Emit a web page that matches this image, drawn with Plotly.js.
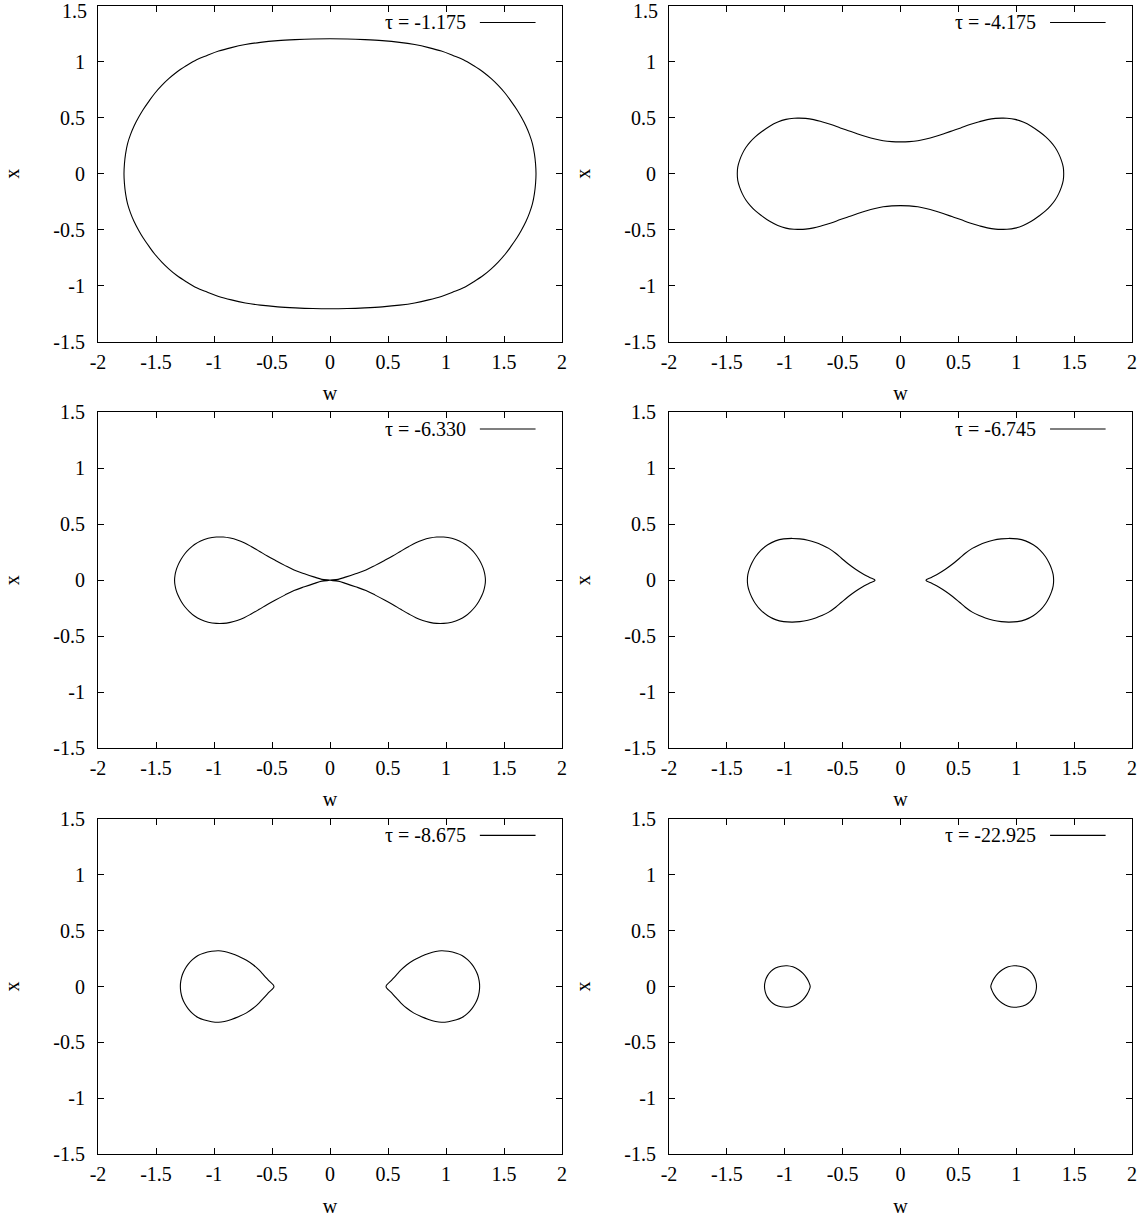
<!DOCTYPE html>
<html><head><meta charset="utf-8">
<script src="https://cdn.plot.ly/plotly-3.0.1.min.js"></script>
<style>body{margin:0;background:#fff}#chart{width:1148px;height:1222px}</style>
</head><body><div id="chart"></div>
<script>
// ---------------- data ----------------
const tauLabels = ['τ = -1.175', 'τ = -4.175', 'τ = -6.330', 'τ = -6.745', 'τ = -8.675', 'τ = -22.925'];

const xTickVals = [-2, -1.5, -1, -0.5, 0, 0.5, 1, 1.5, 2];
const xTickText = ['-2', '-1.5', '-1', '-0.5', '0', '0.5', '1', '1.5', '2'];
const yTickVals = [-1.5, -1, -0.5, 0, 0.5, 1, 1.5];
const yTickText = ['-1.5', '-1', '-0.5', '0', '0.5', '1', '1.5'];
// top row: the "1.5" label sits on the page edge, drawn separately so it is not cut
const yTickTextTopRow = ['-1.5', '-1', '-0.5', '0', '0.5', '1', ''];
const topEdgeLabel = '1.5';

// panel 1 : single oval (clockwise from the top)
const p1W = [0,0.15,0.3,0.45,0.6,0.73,0.85,0.96,1.06,1.15,1.24,1.32,1.39,1.45,1.51,1.56,1.61,1.65,1.69,1.72,1.745,1.762,1.772,1.776,
  1.772,1.762,1.745,1.72,1.69,1.65,1.61,1.56,1.51,1.45,1.39,1.32,1.24,1.15,1.06,0.96,0.85,0.73,0.6,0.45,0.3,0.15,0,
  -0.15,-0.3,-0.45,-0.6,-0.73,-0.85,-0.96,-1.06,-1.15,-1.24,-1.32,-1.39,-1.45,-1.51,-1.56,-1.61,-1.65,-1.69,-1.72,-1.745,-1.762,-1.772,-1.776,
  -1.772,-1.762,-1.745,-1.72,-1.69,-1.65,-1.61,-1.56,-1.51,-1.45,-1.39,-1.32,-1.24,-1.15,-1.06,-0.96,-0.85,-0.73,-0.6,-0.45,-0.3,-0.15,0];
const p1X = [1.207,1.205,1.199,1.19,1.175,1.155,1.128,1.097,1.058,1.02,0.965,0.91,0.85,0.79,0.72,0.65,0.575,0.505,0.425,0.35,0.27,0.18,0.09,0,
  -0.09,-0.18,-0.27,-0.35,-0.425,-0.505,-0.575,-0.65,-0.72,-0.79,-0.85,-0.91,-0.965,-1.02,-1.058,-1.097,-1.128,-1.155,-1.175,-1.19,-1.199,-1.205,-1.207,
  -1.205,-1.199,-1.19,-1.175,-1.155,-1.128,-1.097,-1.058,-1.02,-0.965,-0.91,-0.85,-0.79,-0.72,-0.65,-0.575,-0.505,-0.425,-0.35,-0.27,-0.18,-0.09,0,
  0.09,0.18,0.27,0.35,0.425,0.505,0.575,0.65,0.72,0.79,0.85,0.91,0.965,1.02,1.058,1.097,1.128,1.155,1.175,1.19,1.199,1.205,1.207];

// panel 2 : peanut (clockwise from the upper neck)
const p2W = [0,0.075,0.15,0.22,0.3,0.38,0.45,0.52,0.6,0.68,0.75,0.82,0.88,0.92,0.99,1.06,1.13,1.2,1.255,1.298,1.336,1.366,1.39,1.406,1.41,
  1.406,1.39,1.366,1.336,1.298,1.255,1.2,1.13,1.06,0.99,0.92,0.88,0.82,0.75,0.68,0.6,0.52,0.45,0.38,0.3,0.22,0.15,0.075,0,
  -0.075,-0.15,-0.22,-0.3,-0.38,-0.45,-0.52,-0.6,-0.68,-0.75,-0.82,-0.88,-0.92,-0.99,-1.06,-1.13,-1.2,-1.255,-1.298,-1.336,-1.366,-1.39,-1.406,-1.41,
  -1.406,-1.39,-1.366,-1.336,-1.298,-1.255,-1.2,-1.13,-1.06,-0.99,-0.92,-0.88,-0.82,-0.75,-0.68,-0.6,-0.52,-0.45,-0.38,-0.3,-0.22,-0.15,-0.075,0];
const p2X = [0.285,0.287,0.295,0.31,0.333,0.36,0.385,0.41,0.44,0.465,0.484,0.495,0.497,0.496,0.486,0.462,0.425,0.375,0.33,0.285,0.235,0.18,0.12,0.06,0,
  -0.06,-0.12,-0.18,-0.235,-0.285,-0.33,-0.375,-0.425,-0.462,-0.486,-0.496,-0.497,-0.495,-0.484,-0.465,-0.44,-0.41,-0.385,-0.36,-0.333,-0.31,-0.295,-0.287,-0.285,
  -0.287,-0.295,-0.31,-0.333,-0.36,-0.385,-0.41,-0.44,-0.465,-0.484,-0.495,-0.497,-0.496,-0.486,-0.462,-0.425,-0.375,-0.33,-0.285,-0.235,-0.18,-0.12,-0.06,0,
  0.06,0.12,0.18,0.235,0.285,0.33,0.375,0.425,0.462,0.486,0.496,0.497,0.495,0.484,0.465,0.44,0.41,0.385,0.36,0.333,0.31,0.295,0.287,0.285];

// panel 3 : two lobes touching at the origin
const p3RightW = [0,0.07,0.14,0.22,0.31,0.39,0.47,0.54,0.61,0.68,0.74,0.80,0.86,0.92,0.98,1.05,1.115,1.168,1.213,1.253,1.285,1.31,1.326,1.336,1.34,
  1.336,1.326,1.31,1.285,1.253,1.213,1.168,1.115,1.05,0.98,0.92,0.86,0.80,0.74,0.68,0.61,0.54,0.47,0.39,0.31,0.22,0.14,0.07,0];
const p3LeftW = [0,-0.07,-0.14,-0.22,-0.31,-0.39,-0.47,-0.54,-0.61,-0.68,-0.74,-0.80,-0.86,-0.92,-0.98,-1.05,-1.115,-1.168,-1.213,-1.253,-1.285,-1.31,-1.326,-1.336,-1.34,
  -1.336,-1.326,-1.31,-1.285,-1.253,-1.213,-1.168,-1.115,-1.05,-0.98,-0.92,-0.86,-0.80,-0.74,-0.68,-0.61,-0.54,-0.47,-0.39,-0.31,-0.22,-0.14,-0.07,0];
const p3LobeX = [0,0.008,0.03,0.058,0.092,0.133,0.177,0.217,0.26,0.302,0.335,0.36,0.377,0.386,0.386,0.375,0.352,0.32,0.28,0.235,0.185,0.135,0.09,0.045,0,
  -0.045,-0.09,-0.135,-0.185,-0.235,-0.28,-0.32,-0.352,-0.375,-0.386,-0.386,-0.377,-0.36,-0.335,-0.302,-0.26,-0.217,-0.177,-0.133,-0.092,-0.058,-0.03,-0.008,0];

// panel 4 : two teardrops, cusps near +-0.22
const p4RightW = [0.22,0.27,0.33,0.388,0.45,0.51,0.56,0.62,0.68,0.733,0.8,0.87,0.934,1.01,1.08,1.147,1.205,1.253,1.285,1.306,1.319,1.323,
  1.319,1.306,1.285,1.253,1.205,1.147,1.08,1.01,0.934,0.87,0.8,0.733,0.68,0.62,0.56,0.51,0.45,0.388,0.33,0.27,0.22];
const p4LeftW = [-0.22,-0.27,-0.33,-0.388,-0.45,-0.51,-0.56,-0.62,-0.68,-0.733,-0.8,-0.87,-0.934,-1.01,-1.08,-1.147,-1.205,-1.253,-1.285,-1.306,-1.319,-1.323,
  -1.319,-1.306,-1.285,-1.253,-1.205,-1.147,-1.08,-1.01,-0.934,-0.87,-0.8,-0.733,-0.68,-0.62,-0.56,-0.51,-0.45,-0.388,-0.33,-0.27,-0.22];
const p4LobeX = [0,0.027,0.06,0.098,0.145,0.197,0.241,0.285,0.316,0.338,0.358,0.37,0.374,0.37,0.352,0.317,0.27,0.21,0.152,0.1,0.05,0,
  -0.05,-0.1,-0.152,-0.21,-0.27,-0.317,-0.352,-0.37,-0.374,-0.37,-0.358,-0.338,-0.316,-0.285,-0.241,-0.197,-0.145,-0.098,-0.06,-0.027,0];

// panel 5 : two teardrops, cusps near +-0.48
const p5RightW = [0.483,0.53,0.575,0.612,0.66,0.72,0.784,0.85,0.91,0.96,1.02,1.09,1.138,1.186,1.222,1.251,1.273,1.286,1.29,
  1.286,1.273,1.251,1.222,1.186,1.138,1.09,1.02,0.96,0.91,0.85,0.784,0.72,0.66,0.612,0.575,0.53,0.483];
const p5LeftW = [-0.483,-0.53,-0.575,-0.612,-0.66,-0.72,-0.784,-0.85,-0.91,-0.96,-1.02,-1.09,-1.138,-1.186,-1.222,-1.251,-1.273,-1.286,-1.29,
  -1.286,-1.273,-1.251,-1.222,-1.186,-1.138,-1.09,-1.02,-0.96,-0.91,-0.85,-0.784,-0.72,-0.66,-0.612,-0.575,-0.53,-0.483];
const p5LobeX = [0,0.055,0.107,0.148,0.193,0.236,0.268,0.295,0.313,0.32,0.315,0.298,0.278,0.24,0.2,0.155,0.105,0.05,0,
  -0.05,-0.105,-0.155,-0.2,-0.24,-0.278,-0.298,-0.315,-0.32,-0.313,-0.295,-0.268,-0.236,-0.193,-0.148,-0.107,-0.055,0];

// panel 6 : two small loops
const p6RightW = [0.78,0.79,0.81,0.84,0.88,0.93,0.98,1.03,1.08,1.12,1.15,1.168,1.175,
  1.168,1.15,1.12,1.08,1.03,0.98,0.93,0.88,0.84,0.81,0.79,0.78];
const p6LeftW = [-0.78,-0.79,-0.81,-0.84,-0.88,-0.93,-0.98,-1.03,-1.08,-1.12,-1.15,-1.168,-1.175,
  -1.168,-1.15,-1.12,-1.08,-1.03,-0.98,-0.93,-0.88,-0.84,-0.81,-0.79,-0.78];
const p6LobeX = [0,0.035,0.075,0.115,0.15,0.176,0.186,0.182,0.165,0.135,0.095,0.05,0,
  -0.05,-0.095,-0.135,-0.165,-0.182,-0.186,-0.176,-0.15,-0.115,-0.075,-0.035,0];

// ---------------- assemble ----------------
const panels = [
  {w: p1W, x: p1X},
  {w: p2W, x: p2X},
  {w: p3RightW.concat([null], p3LeftW), x: p3LobeX.concat([null], p3LobeX)},
  {w: p4RightW.concat([null], p4LeftW), x: p4LobeX.concat([null], p4LobeX)},
  {w: p5RightW.concat([null], p5LeftW), x: p5LobeX.concat([null], p5LobeX)},
  {w: p6RightW.concat([null], p6LeftW), x: p6LobeX.concat([null], p6LobeX)}
];

const FONT = 'Liberation Serif, Times New Roman, serif';
const FS = 20;
const colDom = [[0, 0.44874], [0.55222, 1]];
const rowDom = [[0.70775, 1], [0.35366, 0.64591], [0, 0.29181]];

const traces = [];
const layout = {
  width: 1148, height: 1222,
  margin: {l: 98, r: 16, t: 6, b: 68},
  paper_bgcolor: '#ffffff', plot_bgcolor: '#ffffff',
  showlegend: false,
  font: {family: FONT, size: FS, color: '#000'},
  annotations: [], shapes: []
};

panels.forEach((p, i) => {
  const sfx = i === 0 ? '' : String(i + 1);
  const xa = 'x' + sfx, ya = 'y' + sfx;
  const topRow = i < 2;
  traces.push({
    type: 'scatter', mode: 'lines', x: p.w, y: p.x, xaxis: xa, yaxis: ya,
    name: tauLabels[i], connectgaps: false,
    line: {color: '#000', width: 1.1, shape: 'spline', smoothing: 1},
    hoverinfo: 'skip'
  });
  const common = {
    ticks: 'inside', ticklen: 6, tickwidth: 1, tickcolor: '#000',
    showline: true, linecolor: '#000', linewidth: 1, mirror: 'ticks',
    zeroline: false, showgrid: false, fixedrange: true,
    tickfont: {family: FONT, size: FS, color: '#000'}
  };
  layout['xaxis' + sfx] = Object.assign({}, common, {
    domain: colDom[i % 2], anchor: ya, range: [-2, 2],
    tickmode: 'array', tickvals: xTickVals, ticktext: xTickText,
    ticklabelstandoff: 2,
    title: {text: 'w', font: {family: FONT, size: FS, color: '#000'}, standoff: 14}
  });
  layout['yaxis' + sfx] = Object.assign({}, common, {
    domain: rowDom[Math.floor(i / 2)], anchor: xa, range: [-1.5, 1.5],
    tickmode: 'array', tickvals: yTickVals, ticktext: topRow ? yTickTextTopRow : yTickText,
    ticklabelstandoff: 8,
    title: {text: 'x', font: {family: FONT, size: FS, color: '#000'}, standoff: 28}
  });
  if (topRow) {
    layout.annotations.push({
      xref: xa + ' domain', yref: 'paper', x: 0, y: 1, xshift: -10, yshift: 7,
      xanchor: 'right', yanchor: 'top', showarrow: false, borderpad: 0,
      text: topEdgeLabel, font: {family: FONT, size: FS, color: '#000'}
    });
  }
  layout.annotations.push({
    xref: xa + ' domain', yref: ya + ' domain', x: 0.797, y: 0.951,
    xanchor: 'right', yanchor: 'middle', showarrow: false,
    text: tauLabels[i], font: {family: FONT, size: FS, color: '#000'}
  });
  layout.shapes.push({
    type: 'line', xref: xa + ' domain', yref: ya + ' domain',
    x0: 0.823, x1: 0.943, y0: 0.951, y1: 0.951,
    line: {color: '#000', width: 1.1}
  });
});

Plotly.newPlot('chart', traces, layout, {staticPlot: true, displayModeBar: false});
</script>
</body></html>
